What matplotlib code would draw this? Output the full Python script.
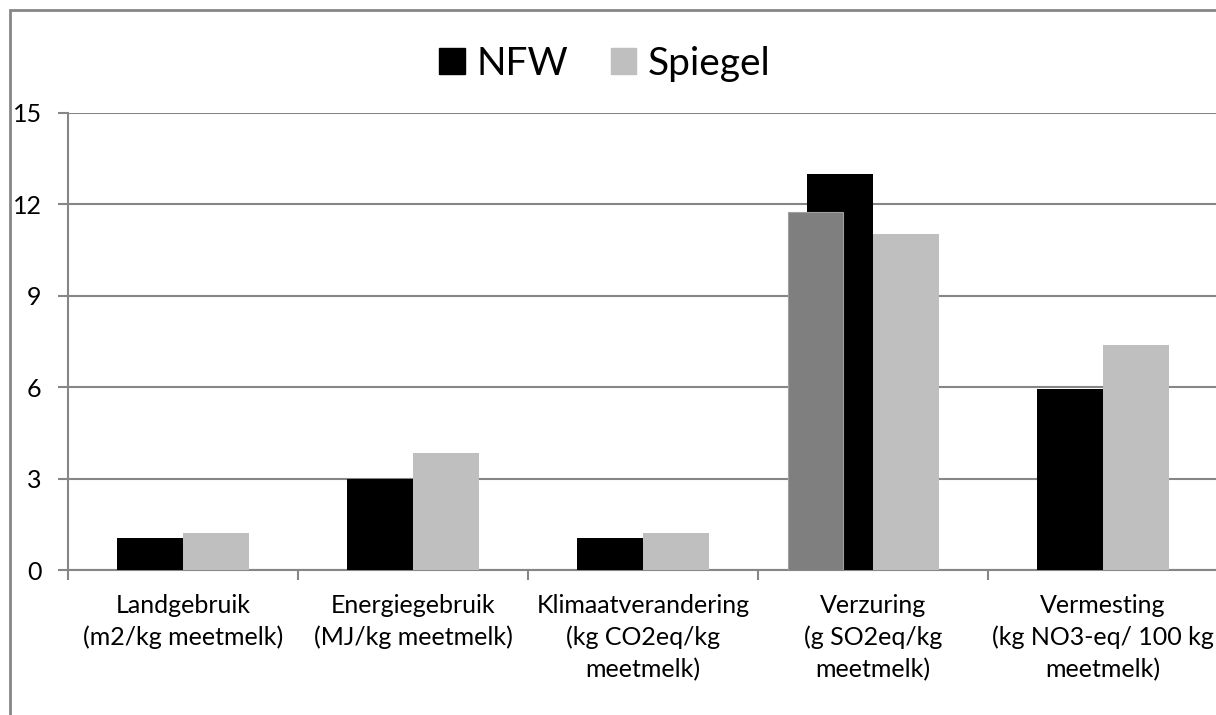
import matplotlib.pyplot as plt
from matplotlib.patches import Patch, Rectangle

categories = ['Landgebruik\n(m2/kg meetmelk)',
              'Energiegebruik\n(MJ/kg meetmelk)',
              'Klimaatverandering\n(kg CO2eq/kg\nmeetmelk)',
              'Verzuring\n(g SO2eq/kg\nmeetmelk)',
              'Vermesting\n(kg NO3-eq/ 100 kg\nmeetmelk)']
nfw = [1.05, 3.0, 1.05, 13.0, 5.95]
spiegel = [1.2, 3.83, 1.2, 11.02, 7.38]
# extra grey bar that sits in front of the Verzuring group
extra = [0, 0, 0, 11.75, 0]
yticks = [0, 3, 6, 9, 12, 15]

plt.rcParams['font.family'] = ['Lato', 'DejaVu Sans']
grid_col = '#868686'

fig = plt.figure(figsize=(12.16, 7.15), dpi=100)
ax = fig.add_axes([68/1216, 145/715, 1150/1216, 457/715])

w = 0.287
x = list(range(len(categories)))
ax.bar([i - w/2 for i in x], nfw, width=w, color='black', zorder=3)
ax.bar([i + w/2 for i in x], spiegel, width=w, color='#bfbfbf', zorder=3)
xe = [i - 0.25 for i, v in zip(x, extra) if v > 0]
ve = [v for v in extra if v > 0]
ax.bar(xe, ve, width=0.239, color='#7f7f7f', edgecolor='#a0a0a0', linewidth=0.8, zorder=4)

ax.set_xlim(-0.5, len(categories) - 0.5)
ax.set_ylim(0, 15)
ax.set_yticks(yticks)
ax.yaxis.grid(True, color=grid_col, linewidth=1.5, zorder=0)
ax.tick_params(axis='y', length=7, width=1.5, color=grid_col, labelsize=18, pad=12)

# category boundaries get the tick marks, centres get the labels
ax.set_xticks([i - 0.5 for i in range(len(categories) + 1)])
ax.set_xticklabels([])
ax.set_xticks(x, minor=True)
ax.set_xticklabels(categories, minor=True, fontsize=18, linespacing=1.45)
ax.tick_params(axis='x', which='major', length=7, width=1.5, color=grid_col)
ax.tick_params(axis='x', which='minor', length=0, pad=17)

for s in ['top', 'right']:
    ax.spines[s].set_visible(False)
for s in ['left', 'bottom']:
    ax.spines[s].set_color(grid_col)
    ax.spines[s].set_linewidth(1.5)
ax.set_axisbelow(True)

handles = [Patch(color='black', label='NFW'), Patch(color='#bfbfbf', label='Spiegel')]
fig.legend(handles=handles, loc='center', bbox_to_anchor=(605/1216, 1 - 64/715),
           ncol=2, frameon=False, fontsize=28, handlelength=0.65, handleheight=0.65,
           handletextpad=0.3, columnspacing=1.1)

fig.patches.append(Rectangle((10/1216, -0.05), 1.1, 1 - 10/715 + 0.05,
                             transform=fig.transFigure, fill=False,
                             edgecolor=grid_col, linewidth=2))

fig.savefig('out.png', dpi=100)
